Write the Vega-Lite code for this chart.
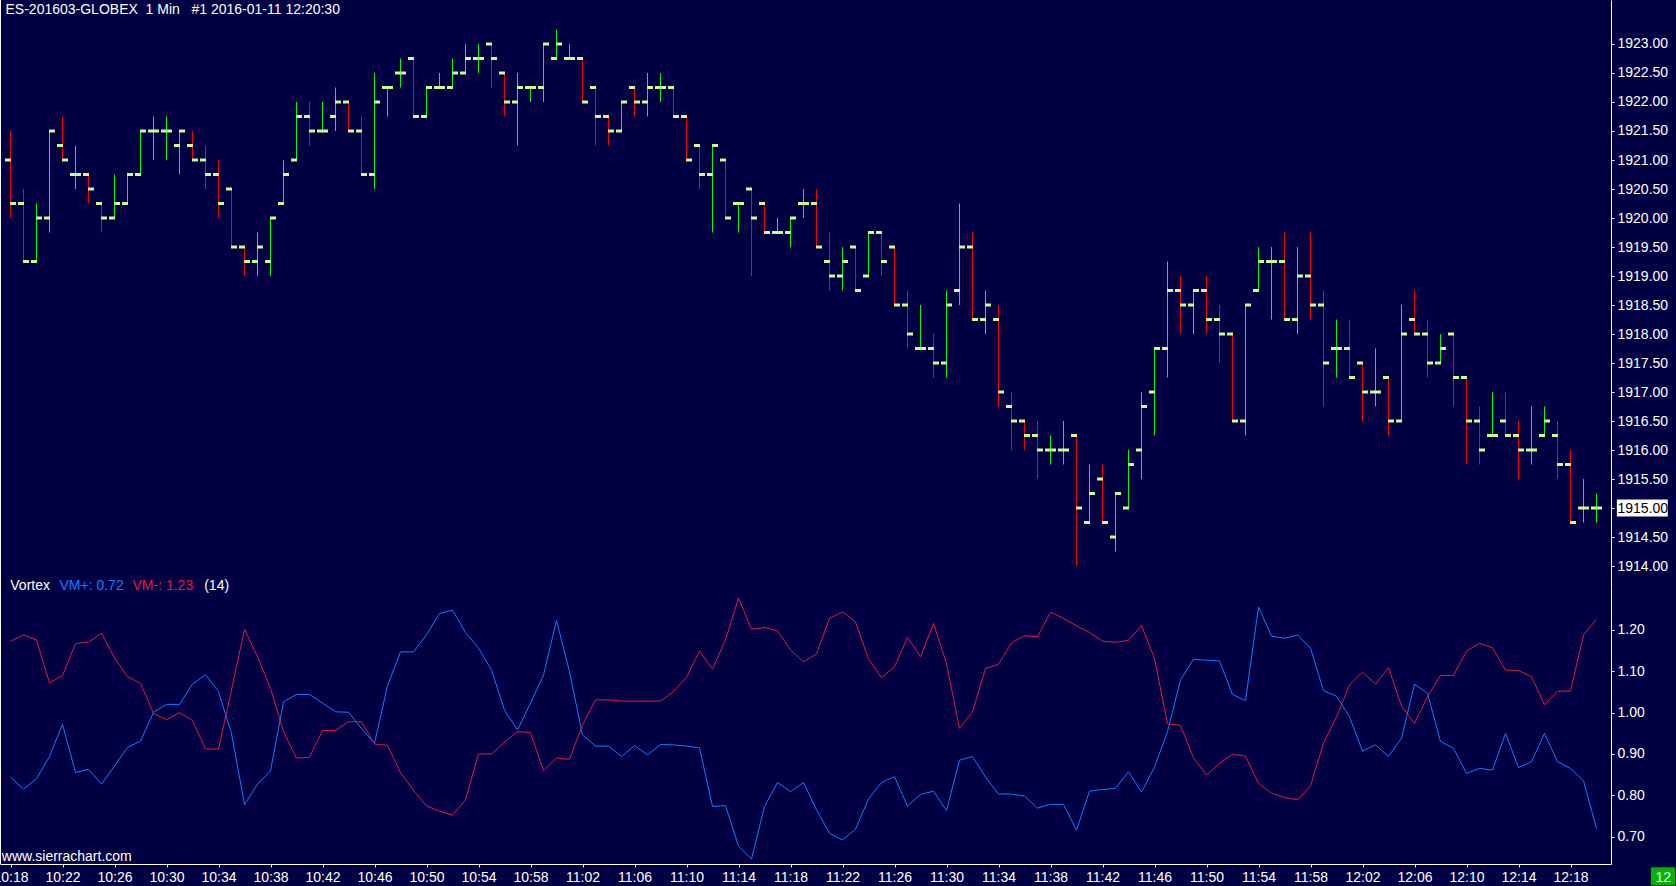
{
 "$schema": "https://vega.github.io/schema/vega-lite/v6.json",
 "width": 1611,
 "height": 864,
 "autosize": {"type": "none"},
 "padding": {"left": 0, "top": 0, "right": 65, "bottom": 22},
 "background": "#000042",
 "config": {
  "view": {"stroke": null, "fill": "#000042"},
  "font": "Liberation Sans",
  "axis": {"labelFont": "Liberation Sans", "labelFontSize": 14, "labelColor": "#FFFFFF", "domainColor": "#FFFFFF", "domainWidth": 1, "tickColor": "#FFFFFF", "grid": false, "labelOverlap": false, "labelFlush": false}
 },
 "data": {"values": [
  {"t":"2016-01-11T10:18","o":1921,"h":1921.5,"l":1920,"c":1920.25,"vp":0.844,"vm":1.173},
  {"t":"2016-01-11T10:19","o":1920.25,"h":1920.5,"l":1919.25,"c":1919.25,"vp":0.815,"vm":1.188},
  {"t":"2016-01-11T10:20","o":1919.25,"h":1920.25,"l":1919.25,"c":1920,"vp":0.840,"vm":1.176},
  {"t":"2016-01-11T10:21","o":1920,"h":1921.5,"l":1919.75,"c":1921.5,"vp":0.894,"vm":1.072},
  {"t":"2016-01-11T10:22","o":1921.25,"h":1921.75,"l":1921,"c":1921,"vp":0.972,"vm":1.090},
  {"t":"2016-01-11T10:23","o":1920.75,"h":1921.25,"l":1920.5,"c":1920.75,"vp":0.855,"vm":1.167},
  {"t":"2016-01-11T10:24","o":1920.75,"h":1920.75,"l":1920.25,"c":1920.5,"vp":0.863,"vm":1.171},
  {"t":"2016-01-11T10:25","o":1920.25,"h":1920.25,"l":1919.75,"c":1920,"vp":0.827,"vm":1.192},
  {"t":"2016-01-11T10:26","o":1920,"h":1920.75,"l":1920,"c":1920.25,"vp":0.871,"vm":1.133},
  {"t":"2016-01-11T10:27","o":1920.25,"h":1920.75,"l":1920.25,"c":1920.75,"vp":0.916,"vm":1.087},
  {"t":"2016-01-11T10:28","o":1920.75,"h":1921.5,"l":1920.75,"c":1921.5,"vp":0.931,"vm":1.071},
  {"t":"2016-01-11T10:29","o":1921.5,"h":1921.75,"l":1921,"c":1921.5,"vp":1.001,"vm":0.998},
  {"t":"2016-01-11T10:30","o":1921.5,"h":1921.75,"l":1921,"c":1921.5,"vp":1.020,"vm":0.983},
  {"t":"2016-01-11T10:31","o":1921.25,"h":1921.5,"l":1920.75,"c":1921.5,"vp":1.020,"vm":1.000},
  {"t":"2016-01-11T10:32","o":1921.25,"h":1921.5,"l":1921,"c":1921,"vp":1.069,"vm":0.981},
  {"t":"2016-01-11T10:33","o":1921,"h":1921.25,"l":1920.5,"c":1920.75,"vp":1.092,"vm":0.912},
  {"t":"2016-01-11T10:34","o":1920.75,"h":1921,"l":1920,"c":1920.25,"vp":1.051,"vm":0.912},
  {"t":"2016-01-11T10:35","o":1920.5,"h":1920.5,"l":1919.5,"c":1919.5,"vp":0.950,"vm":1.055},
  {"t":"2016-01-11T10:36","o":1919.5,"h":1919.5,"l":1919,"c":1919.25,"vp":0.777,"vm":1.202},
  {"t":"2016-01-11T10:37","o":1919.25,"h":1919.75,"l":1919,"c":1919.5,"vp":0.827,"vm":1.135},
  {"t":"2016-01-11T10:38","o":1919.25,"h":1920,"l":1919,"c":1920,"vp":0.859,"vm":1.059},
  {"t":"2016-01-11T10:39","o":1920.25,"h":1921,"l":1920.25,"c":1920.75,"vp":1.026,"vm":0.954},
  {"t":"2016-01-11T10:40","o":1921,"h":1922,"l":1921,"c":1921.75,"vp":1.044,"vm":0.890},
  {"t":"2016-01-11T10:41","o":1921.75,"h":1922,"l":1921.25,"c":1921.5,"vp":1.044,"vm":0.892},
  {"t":"2016-01-11T10:42","o":1921.5,"h":1922,"l":1921.5,"c":1921.5,"vp":1.023,"vm":0.957},
  {"t":"2016-01-11T10:43","o":1921.75,"h":1922.25,"l":1921.5,"c":1922,"vp":1.002,"vm":0.957},
  {"t":"2016-01-11T10:44","o":1922,"h":1922,"l":1921.5,"c":1921.5,"vp":1.001,"vm":0.978},
  {"t":"2016-01-11T10:45","o":1921.5,"h":1921.75,"l":1920.75,"c":1920.75,"vp":0.961,"vm":0.978},
  {"t":"2016-01-11T10:46","o":1920.75,"h":1922.5,"l":1920.5,"c":1922,"vp":0.926,"vm":0.924},
  {"t":"2016-01-11T10:47","o":1922.25,"h":1922.25,"l":1921.75,"c":1922.25,"vp":1.065,"vm":0.921},
  {"t":"2016-01-11T10:48","o":1922.5,"h":1922.75,"l":1922.25,"c":1922.5,"vp":1.147,"vm":0.855},
  {"t":"2016-01-11T10:49","o":1922.75,"h":1922.75,"l":1921.75,"c":1921.75,"vp":1.147,"vm":0.812},
  {"t":"2016-01-11T10:50","o":1921.75,"h":1922.25,"l":1921.75,"c":1922.25,"vp":1.188,"vm":0.774},
  {"t":"2016-01-11T10:51","o":1922.25,"h":1922.5,"l":1922.25,"c":1922.25,"vp":1.240,"vm":0.762},
  {"t":"2016-01-11T10:52","o":1922.25,"h":1922.75,"l":1922.25,"c":1922.5,"vp":1.248,"vm":0.752},
  {"t":"2016-01-11T10:53","o":1922.5,"h":1923,"l":1922.5,"c":1922.75,"vp":1.194,"vm":0.789},
  {"t":"2016-01-11T10:54","o":1922.75,"h":1923,"l":1922.5,"c":1922.75,"vp":1.156,"vm":0.900},
  {"t":"2016-01-11T10:55","o":1923,"h":1923,"l":1922.25,"c":1922.75,"vp":1.103,"vm":0.900},
  {"t":"2016-01-11T10:56","o":1922.5,"h":1922.5,"l":1921.75,"c":1922,"vp":1.006,"vm":0.928},
  {"t":"2016-01-11T10:57","o":1922,"h":1922.5,"l":1921.25,"c":1922.25,"vp":0.958,"vm":0.954},
  {"t":"2016-01-11T10:58","o":1922.25,"h":1922.25,"l":1922,"c":1922.25,"vp":1.023,"vm":0.952},
  {"t":"2016-01-11T10:59","o":1922.25,"h":1923,"l":1922,"c":1923,"vp":1.091,"vm":0.859},
  {"t":"2016-01-11T11:00","o":1922.75,"h":1923.25,"l":1922.75,"c":1923,"vp":1.223,"vm":0.890},
  {"t":"2016-01-11T11:01","o":1922.75,"h":1923,"l":1922.75,"c":1922.75,"vp":1.099,"vm":0.887},
  {"t":"2016-01-11T11:02","o":1922.75,"h":1922.75,"l":1922,"c":1922,"vp":0.946,"vm":0.970},
  {"t":"2016-01-11T11:03","o":1922.25,"h":1922.25,"l":1921.25,"c":1921.75,"vp":0.919,"vm":1.031},
  {"t":"2016-01-11T11:04","o":1921.75,"h":1921.75,"l":1921.25,"c":1921.5,"vp":0.919,"vm":1.031},
  {"t":"2016-01-11T11:05","o":1921.5,"h":1922,"l":1921.5,"c":1922,"vp":0.894,"vm":1.028},
  {"t":"2016-01-11T11:06","o":1922.25,"h":1922.25,"l":1921.75,"c":1922,"vp":0.920,"vm":1.028},
  {"t":"2016-01-11T11:07","o":1922,"h":1922.5,"l":1921.75,"c":1922.25,"vp":0.898,"vm":1.028},
  {"t":"2016-01-11T11:08","o":1922.25,"h":1922.5,"l":1922,"c":1922.25,"vp":0.923,"vm":1.028},
  {"t":"2016-01-11T11:09","o":1922.25,"h":1922.25,"l":1921.75,"c":1921.75,"vp":0.922,"vm":1.051},
  {"t":"2016-01-11T11:10","o":1921.75,"h":1921.75,"l":1921,"c":1921,"vp":0.919,"vm":1.085},
  {"t":"2016-01-11T11:11","o":1921.25,"h":1921.25,"l":1920.5,"c":1920.75,"vp":0.915,"vm":1.149},
  {"t":"2016-01-11T11:12","o":1920.75,"h":1921.25,"l":1919.75,"c":1921.25,"vp":0.773,"vm":1.105},
  {"t":"2016-01-11T11:13","o":1921,"h":1921,"l":1920,"c":1920,"vp":0.775,"vm":1.176},
  {"t":"2016-01-11T11:14","o":1920.25,"h":1920.25,"l":1919.75,"c":1920.25,"vp":0.677,"vm":1.277},
  {"t":"2016-01-11T11:15","o":1920.5,"h":1920.5,"l":1919,"c":1920,"vp":0.646,"vm":1.202},
  {"t":"2016-01-11T11:16","o":1920.25,"h":1920.25,"l":1919.75,"c":1919.75,"vp":0.773,"vm":1.206},
  {"t":"2016-01-11T11:17","o":1919.75,"h":1920,"l":1919.75,"c":1919.75,"vp":0.831,"vm":1.198},
  {"t":"2016-01-11T11:18","o":1919.75,"h":1920,"l":1919.5,"c":1920,"vp":0.809,"vm":1.152},
  {"t":"2016-01-11T11:19","o":1920.25,"h":1920.5,"l":1920,"c":1920.25,"vp":0.831,"vm":1.123},
  {"t":"2016-01-11T11:20","o":1920.25,"h":1920.5,"l":1919.5,"c":1919.5,"vp":0.765,"vm":1.142},
  {"t":"2016-01-11T11:21","o":1919.25,"h":1919.75,"l":1918.75,"c":1919,"vp":0.708,"vm":1.228},
  {"t":"2016-01-11T11:22","o":1919,"h":1919.5,"l":1918.75,"c":1919.25,"vp":0.692,"vm":1.244},
  {"t":"2016-01-11T11:23","o":1919.5,"h":1919.5,"l":1918.75,"c":1918.75,"vp":0.718,"vm":1.219},
  {"t":"2016-01-11T11:24","o":1919,"h":1919.75,"l":1919,"c":1919.75,"vp":0.791,"vm":1.130},
  {"t":"2016-01-11T11:25","o":1919.75,"h":1919.75,"l":1919,"c":1919.25,"vp":0.831,"vm":1.085},
  {"t":"2016-01-11T11:26","o":1919.5,"h":1919.5,"l":1918.5,"c":1918.5,"vp":0.845,"vm":1.111},
  {"t":"2016-01-11T11:27","o":1918.5,"h":1918.75,"l":1917.75,"c":1918,"vp":0.774,"vm":1.182},
  {"t":"2016-01-11T11:28","o":1917.75,"h":1918.5,"l":1917.75,"c":1917.75,"vp":0.802,"vm":1.135},
  {"t":"2016-01-11T11:29","o":1917.75,"h":1918,"l":1917.25,"c":1917.5,"vp":0.810,"vm":1.216},
  {"t":"2016-01-11T11:30","o":1917.5,"h":1918.75,"l":1917.25,"c":1918.5,"vp":0.763,"vm":1.119},
  {"t":"2016-01-11T11:31","o":1918.75,"h":1920.25,"l":1918.5,"c":1919.5,"vp":0.885,"vm":0.962},
  {"t":"2016-01-11T11:32","o":1919.5,"h":1919.75,"l":1918.25,"c":1918.25,"vp":0.894,"vm":1.002},
  {"t":"2016-01-11T11:33","o":1918.25,"h":1918.75,"l":1918,"c":1918.5,"vp":0.844,"vm":1.107},
  {"t":"2016-01-11T11:34","o":1918.25,"h":1918.5,"l":1916.75,"c":1917,"vp":0.803,"vm":1.117},
  {"t":"2016-01-11T11:35","o":1916.75,"h":1917,"l":1916,"c":1916.5,"vp":0.803,"vm":1.169},
  {"t":"2016-01-11T11:36","o":1916.5,"h":1916.5,"l":1916,"c":1916.25,"vp":0.798,"vm":1.186},
  {"t":"2016-01-11T11:37","o":1916.25,"h":1916.5,"l":1915.5,"c":1916,"vp":0.769,"vm":1.184},
  {"t":"2016-01-11T11:38","o":1916,"h":1916.25,"l":1915.75,"c":1916,"vp":0.778,"vm":1.243},
  {"t":"2016-01-11T11:39","o":1916,"h":1916.5,"l":1915.75,"c":1916,"vp":0.778,"vm":1.228},
  {"t":"2016-01-11T11:40","o":1916.25,"h":1916.25,"l":1914,"c":1915,"vp":0.716,"vm":1.210},
  {"t":"2016-01-11T11:41","o":1914.75,"h":1915.75,"l":1914.75,"c":1915.25,"vp":0.810,"vm":1.194},
  {"t":"2016-01-11T11:42","o":1915.5,"h":1915.75,"l":1914.75,"c":1914.75,"vp":0.814,"vm":1.173},
  {"t":"2016-01-11T11:43","o":1914.5,"h":1915.25,"l":1914.25,"c":1915.25,"vp":0.817,"vm":1.170},
  {"t":"2016-01-11T11:44","o":1915,"h":1916,"l":1915,"c":1915.75,"vp":0.857,"vm":1.175},
  {"t":"2016-01-11T11:45","o":1916,"h":1917,"l":1915.5,"c":1916.75,"vp":0.808,"vm":1.211},
  {"t":"2016-01-11T11:46","o":1917,"h":1917.75,"l":1916.25,"c":1917.75,"vp":0.868,"vm":1.131},
  {"t":"2016-01-11T11:47","o":1917.75,"h":1919.25,"l":1917.25,"c":1918.75,"vp":0.954,"vm":0.973},
  {"t":"2016-01-11T11:48","o":1918.75,"h":1919,"l":1918,"c":1918.5,"vp":1.079,"vm":0.969},
  {"t":"2016-01-11T11:49","o":1918.5,"h":1918.75,"l":1918,"c":1918.75,"vp":1.129,"vm":0.891},
  {"t":"2016-01-11T11:50","o":1918.75,"h":1919,"l":1918,"c":1918.25,"vp":1.127,"vm":0.849},
  {"t":"2016-01-11T11:51","o":1918.25,"h":1918.5,"l":1917.5,"c":1918,"vp":1.125,"vm":0.877},
  {"t":"2016-01-11T11:52","o":1918,"h":1918,"l":1916.5,"c":1916.5,"vp":1.044,"vm":0.899},
  {"t":"2016-01-11T11:53","o":1916.5,"h":1918.5,"l":1916.25,"c":1918.5,"vp":1.029,"vm":0.895},
  {"t":"2016-01-11T11:54","o":1918.75,"h":1919.5,"l":1918.75,"c":1919.25,"vp":1.256,"vm":0.829},
  {"t":"2016-01-11T11:55","o":1919.25,"h":1919.5,"l":1918.25,"c":1919.25,"vp":1.185,"vm":0.805},
  {"t":"2016-01-11T11:56","o":1919.25,"h":1919.75,"l":1918.25,"c":1918.25,"vp":1.180,"vm":0.795},
  {"t":"2016-01-11T11:57","o":1918.25,"h":1919.5,"l":1918,"c":1919,"vp":1.188,"vm":0.789},
  {"t":"2016-01-11T11:58","o":1919,"h":1919.75,"l":1918.25,"c":1918.5,"vp":1.156,"vm":0.823},
  {"t":"2016-01-11T11:59","o":1918.5,"h":1918.75,"l":1916.75,"c":1917.5,"vp":1.053,"vm":0.926},
  {"t":"2016-01-11T12:00","o":1917.75,"h":1918.25,"l":1917.25,"c":1917.75,"vp":1.040,"vm":0.989},
  {"t":"2016-01-11T12:01","o":1917.75,"h":1918.25,"l":1917.25,"c":1917.25,"vp":0.990,"vm":1.067},
  {"t":"2016-01-11T12:02","o":1917.5,"h":1917.5,"l":1916.5,"c":1917,"vp":0.907,"vm":1.098},
  {"t":"2016-01-11T12:03","o":1917,"h":1917.75,"l":1916.75,"c":1917,"vp":0.922,"vm":1.069},
  {"t":"2016-01-11T12:04","o":1917.25,"h":1917.25,"l":1916.25,"c":1916.5,"vp":0.894,"vm":1.109},
  {"t":"2016-01-11T12:05","o":1916.5,"h":1918.5,"l":1916.5,"c":1918,"vp":0.938,"vm":1.016},
  {"t":"2016-01-11T12:06","o":1918.25,"h":1918.75,"l":1918,"c":1918,"vp":1.069,"vm":0.974},
  {"t":"2016-01-11T12:07","o":1918,"h":1918.25,"l":1917.25,"c":1917.5,"vp":1.047,"vm":1.039},
  {"t":"2016-01-11T12:08","o":1917.5,"h":1918,"l":1917.5,"c":1917.75,"vp":0.930,"vm":1.090},
  {"t":"2016-01-11T12:09","o":1918,"h":1918,"l":1916.75,"c":1917.25,"vp":0.914,"vm":1.090},
  {"t":"2016-01-11T12:10","o":1917.25,"h":1917.25,"l":1915.75,"c":1916.5,"vp":0.853,"vm":1.149},
  {"t":"2016-01-11T12:11","o":1916.5,"h":1916.75,"l":1915.75,"c":1916,"vp":0.865,"vm":1.168},
  {"t":"2016-01-11T12:12","o":1916.25,"h":1917,"l":1916.25,"c":1916.25,"vp":0.861,"vm":1.157},
  {"t":"2016-01-11T12:13","o":1916.5,"h":1917,"l":1916.25,"c":1916.25,"vp":0.950,"vm":1.103},
  {"t":"2016-01-11T12:14","o":1916.25,"h":1916.5,"l":1915.5,"c":1916,"vp":0.867,"vm":1.102},
  {"t":"2016-01-11T12:15","o":1916,"h":1916.75,"l":1915.75,"c":1916,"vp":0.881,"vm":1.087},
  {"t":"2016-01-11T12:16","o":1916.25,"h":1916.75,"l":1916.25,"c":1916.5,"vp":0.950,"vm":1.019},
  {"t":"2016-01-11T12:17","o":1916.25,"h":1916.5,"l":1915.5,"c":1915.75,"vp":0.881,"vm":1.052},
  {"t":"2016-01-11T12:18","o":1915.75,"h":1916,"l":1914.75,"c":1914.75,"vp":0.865,"vm":1.052},
  {"t":"2016-01-11T12:19","o":1915,"h":1915.5,"l":1914.75,"c":1915,"vp":0.835,"vm":1.188},
  {"t":"2016-01-11T12:20","o":1915,"h":1915.25,"l":1914.75,"c":1915,"vp":0.720,"vm":1.226}
 ]},
 "layer": [
  {
   "layer": [
    {
     "mark": {"type": "rule", "strokeWidth": 1},
     "encoding": {
      "x": {"field": "t", "type": "temporal",
            "scale": {"domain": [{"year":2016,"month":1,"date":11,"hours":10,"minutes":17,"seconds":11,"milliseconds":538},{"year":2016,"month":1,"date":11,"hours":12,"minutes":21,"seconds":6,"milliseconds":923}], "nice": false},
            "axis": {"title": null, "orient": "bottom", "format": "%H:%M", "tickSize": 3, "labelPadding": 3, "labelBaseline": "top", "zindex": 2,
              "values": [
               {"year":2016,"month":1,"date":11,"hours":10,"minutes":18},
               {"year":2016,"month":1,"date":11,"hours":10,"minutes":22},
               {"year":2016,"month":1,"date":11,"hours":10,"minutes":26},
               {"year":2016,"month":1,"date":11,"hours":10,"minutes":30},
               {"year":2016,"month":1,"date":11,"hours":10,"minutes":34},
               {"year":2016,"month":1,"date":11,"hours":10,"minutes":38},
               {"year":2016,"month":1,"date":11,"hours":10,"minutes":42},
               {"year":2016,"month":1,"date":11,"hours":10,"minutes":46},
               {"year":2016,"month":1,"date":11,"hours":10,"minutes":50},
               {"year":2016,"month":1,"date":11,"hours":10,"minutes":54},
               {"year":2016,"month":1,"date":11,"hours":10,"minutes":58},
               {"year":2016,"month":1,"date":11,"hours":11,"minutes":2},
               {"year":2016,"month":1,"date":11,"hours":11,"minutes":6},
               {"year":2016,"month":1,"date":11,"hours":11,"minutes":10},
               {"year":2016,"month":1,"date":11,"hours":11,"minutes":14},
               {"year":2016,"month":1,"date":11,"hours":11,"minutes":18},
               {"year":2016,"month":1,"date":11,"hours":11,"minutes":22},
               {"year":2016,"month":1,"date":11,"hours":11,"minutes":26},
               {"year":2016,"month":1,"date":11,"hours":11,"minutes":30},
               {"year":2016,"month":1,"date":11,"hours":11,"minutes":34},
               {"year":2016,"month":1,"date":11,"hours":11,"minutes":38},
               {"year":2016,"month":1,"date":11,"hours":11,"minutes":42},
               {"year":2016,"month":1,"date":11,"hours":11,"minutes":46},
               {"year":2016,"month":1,"date":11,"hours":11,"minutes":50},
               {"year":2016,"month":1,"date":11,"hours":11,"minutes":54},
               {"year":2016,"month":1,"date":11,"hours":11,"minutes":58},
               {"year":2016,"month":1,"date":11,"hours":12,"minutes":2},
               {"year":2016,"month":1,"date":11,"hours":12,"minutes":6},
               {"year":2016,"month":1,"date":11,"hours":12,"minutes":10},
               {"year":2016,"month":1,"date":11,"hours":12,"minutes":14},
               {"year":2016,"month":1,"date":11,"hours":12,"minutes":18}
              ]}},
      "y": {"field": "l", "type": "quantitative",
            "scale": {"domain": [1913.638, 1923.7586], "range": [587, 0], "zero": false, "nice": false},
            "axis": {"title": null, "orient": "right", "format": ".2f", "tickSize": 3, "labelPadding": 3, "zindex": 2,
                     "values": [1914,1914.5,1915,1915.5,1916,1916.5,1917,1917.5,1918,1918.5,1919,1919.5,1920,1920.5,1921,1921.5,1922,1922.5,1923],
                     "labelColor": {"condition": {"test": "datum.value === 1915", "value": "#000000"}, "value": "#FFFFFF"}}},
      "y2": {"field": "h"},
      "color": {"condition": {"test": "datum.c >= datum.o", "value": "#00FF00"}, "value": "#FF0000"}
     }
    },
    {
     "mark": {"type": "rule", "strokeWidth": 3, "xOffset": -5.5, "x2Offset": 0.5, "color": "#C8FF8C"},
     "encoding": {
      "x": {"field": "t", "type": "temporal", "scale": {"domain": [{"year":2016,"month":1,"date":11,"hours":10,"minutes":17,"seconds":11,"milliseconds":538},{"year":2016,"month":1,"date":11,"hours":12,"minutes":21,"seconds":6,"milliseconds":923}], "nice": false}},
      "x2": {"field": "t"},
      "y": {"field": "o", "type": "quantitative", "scale": {"domain": [1913.638, 1923.7586], "range": [587, 0], "zero": false, "nice": false}}
     }
    },
    {
     "mark": {"type": "rule", "strokeWidth": 3, "xOffset": -0.5, "x2Offset": 5.5, "color": "#C8FF8C"},
     "encoding": {
      "x": {"field": "t", "type": "temporal", "scale": {"domain": [{"year":2016,"month":1,"date":11,"hours":10,"minutes":17,"seconds":11,"milliseconds":538},{"year":2016,"month":1,"date":11,"hours":12,"minutes":21,"seconds":6,"milliseconds":923}], "nice": false}},
      "x2": {"field": "t"},
      "y": {"field": "c", "type": "quantitative", "scale": {"domain": [1913.638, 1923.7586], "range": [587, 0], "zero": false, "nice": false}}
     }
    },
    {
     "data": {"values": [{}]},
     "mark": {"type": "rect", "color": "#FFFFFF"},
     "encoding": {
      "x": {"datum": {"year":2016,"month":1,"date":11,"hours":12,"minutes":21,"seconds":34}, "type": "temporal", "scale": {"domain": [{"year":2016,"month":1,"date":11,"hours":10,"minutes":17,"seconds":11,"milliseconds":538},{"year":2016,"month":1,"date":11,"hours":12,"minutes":21,"seconds":6,"milliseconds":923}], "nice": false}},
      "x2": {"datum": {"year":2016,"month":1,"date":11,"hours":12,"minutes":25,"seconds":29}},
      "y": {"datum": 1915.145, "type": "quantitative", "scale": {"domain": [1913.638, 1923.7586], "range": [587, 0], "zero": false, "nice": false}},
      "y2": {"datum": 1914.855}
     }
    },
    {
     "data": {"values": [{}]},
     "mark": {"type": "text", "text": "ES-201603-GLOBEX\u00a0\u00a01 Min\u00a0\u00a0\u00a0#1 2016-01-11 12:20:30", "align": "left", "baseline": "alphabetic", "color": "#FFFFFF", "fontSize": 14, "font": "Liberation Sans"},
     "encoding": {
      "x": {"datum": {"year":2016,"month":1,"date":11,"hours":10,"minutes":17,"seconds":37}, "type": "temporal", "scale": {"domain": [{"year":2016,"month":1,"date":11,"hours":10,"minutes":17,"seconds":11,"milliseconds":538},{"year":2016,"month":1,"date":11,"hours":12,"minutes":21,"seconds":6,"milliseconds":923}], "nice": false}},
      "y": {"datum": 1923.517, "type": "quantitative", "scale": {"domain": [1913.638, 1923.7586], "range": [587, 0], "zero": false, "nice": false}}
     }
    }
   ]
  },
  {
   "layer": [
    {
     "mark": {"type": "line", "color": "#0F7FFF", "strokeWidth": 1},
     "encoding": {
      "x": {"field": "t", "type": "temporal", "scale": {"domain": [{"year":2016,"month":1,"date":11,"hours":10,"minutes":17,"seconds":11,"milliseconds":538},{"year":2016,"month":1,"date":11,"hours":12,"minutes":21,"seconds":6,"milliseconds":923}], "nice": false}},
      "y": {"field": "vp", "type": "quantitative",
            "scale": {"domain": [0.6338, 1.304], "range": [864, 587], "zero": false, "nice": false},
            "axis": {"title": null, "orient": "right", "format": ".2f", "tickSize": 3, "labelPadding": 3, "zindex": 2, "values": [0.7, 0.8, 0.9, 1.0, 1.1, 1.2]}}
     }
    },
    {
     "mark": {"type": "line", "color": "#E8183C", "strokeWidth": 1},
     "encoding": {
      "x": {"field": "t", "type": "temporal", "scale": {"domain": [{"year":2016,"month":1,"date":11,"hours":10,"minutes":17,"seconds":11,"milliseconds":538},{"year":2016,"month":1,"date":11,"hours":12,"minutes":21,"seconds":6,"milliseconds":923}], "nice": false}},
      "y": {"field": "vm", "type": "quantitative", "scale": {"domain": [0.6338, 1.304], "range": [864, 587], "zero": false, "nice": false}}
     }
    },
    {
     "data": {"values": [{}]},
     "mark": {"type": "rule", "color": "#FFFFFF", "strokeWidth": 2},
     "encoding": {
      "x": {"datum": {"year":2016,"month":1,"date":11,"hours":10,"minutes":17,"seconds":11,"milliseconds":538}, "type": "temporal", "scale": {"domain": [{"year":2016,"month":1,"date":11,"hours":10,"minutes":17,"seconds":11,"milliseconds":538},{"year":2016,"month":1,"date":11,"hours":12,"minutes":21,"seconds":6,"milliseconds":923}], "nice": false}},
      "y": {"datum": 0.6338, "type": "quantitative", "scale": {"domain": [0.6338, 1.304], "range": [864, 587], "zero": false, "nice": false}},
      "y2": {"datum": 2.724}
     }
    },
    {
     "data": {"values": [{}]},
     "mark": {"type": "text", "text": "Vortex", "align": "left", "baseline": "alphabetic", "color": "#FFFFFF", "fontSize": 14, "font": "Liberation Sans"},
     "encoding": {
      "x": {"datum": {"year":2016,"month":1,"date":11,"hours":10,"minutes":17,"seconds":59}, "type": "temporal", "scale": {"domain": [{"year":2016,"month":1,"date":11,"hours":10,"minutes":17,"seconds":11,"milliseconds":538},{"year":2016,"month":1,"date":11,"hours":12,"minutes":21,"seconds":6,"milliseconds":923}], "nice": false}},
      "y": {"datum": 1.2968, "type": "quantitative", "scale": {"domain": [0.6338, 1.304], "range": [864, 587], "zero": false, "nice": false}}
     }
    },
    {
     "data": {"values": [{}]},
     "mark": {"type": "text", "text": "VM+: 0.72", "align": "left", "baseline": "alphabetic", "color": "#0F7FFF", "fontSize": 14, "font": "Liberation Sans"},
     "encoding": {
      "x": {"datum": {"year":2016,"month":1,"date":11,"hours":10,"minutes":21,"seconds":46}, "type": "temporal", "scale": {"domain": [{"year":2016,"month":1,"date":11,"hours":10,"minutes":17,"seconds":11,"milliseconds":538},{"year":2016,"month":1,"date":11,"hours":12,"minutes":21,"seconds":6,"milliseconds":923}], "nice": false}},
      "y": {"datum": 1.2968, "type": "quantitative", "scale": {"domain": [0.6338, 1.304], "range": [864, 587], "zero": false, "nice": false}}
     }
    },
    {
     "data": {"values": [{}]},
     "mark": {"type": "text", "text": "VM-: 1.23", "align": "left", "baseline": "alphabetic", "color": "#E8183C", "fontSize": 14, "font": "Liberation Sans"},
     "encoding": {
      "x": {"datum": {"year":2016,"month":1,"date":11,"hours":10,"minutes":27,"seconds":23}, "type": "temporal", "scale": {"domain": [{"year":2016,"month":1,"date":11,"hours":10,"minutes":17,"seconds":11,"milliseconds":538},{"year":2016,"month":1,"date":11,"hours":12,"minutes":21,"seconds":6,"milliseconds":923}], "nice": false}},
      "y": {"datum": 1.2968, "type": "quantitative", "scale": {"domain": [0.6338, 1.304], "range": [864, 587], "zero": false, "nice": false}}
     }
    },
    {
     "data": {"values": [{}]},
     "mark": {"type": "text", "text": "(14)", "align": "left", "baseline": "alphabetic", "color": "#FFFFFF", "fontSize": 14, "font": "Liberation Sans"},
     "encoding": {
      "x": {"datum": {"year":2016,"month":1,"date":11,"hours":10,"minutes":32,"seconds":54}, "type": "temporal", "scale": {"domain": [{"year":2016,"month":1,"date":11,"hours":10,"minutes":17,"seconds":11,"milliseconds":538},{"year":2016,"month":1,"date":11,"hours":12,"minutes":21,"seconds":6,"milliseconds":923}], "nice": false}},
      "y": {"datum": 1.2968, "type": "quantitative", "scale": {"domain": [0.6338, 1.304], "range": [864, 587], "zero": false, "nice": false}}
     }
    },
    {
     "data": {"values": [{}]},
     "mark": {"type": "text", "text": "www.sierrachart.com", "align": "left", "baseline": "alphabetic", "color": "#FFFFFF", "fontSize": 14, "font": "Liberation Sans"},
     "encoding": {
      "x": {"datum": {"year":2016,"month":1,"date":11,"hours":10,"minutes":17,"seconds":20}, "type": "temporal", "scale": {"domain": [{"year":2016,"month":1,"date":11,"hours":10,"minutes":17,"seconds":11,"milliseconds":538},{"year":2016,"month":1,"date":11,"hours":12,"minutes":21,"seconds":6,"milliseconds":923}], "nice": false}},
      "y": {"datum": 0.6399, "type": "quantitative", "scale": {"domain": [0.6338, 1.304], "range": [864, 587], "zero": false, "nice": false}}
     }
    },
    {
     "data": {"values": [{}]},
     "mark": {"type": "rect", "color": "#00B400"},
     "encoding": {
      "x": {"datum": {"year":2016,"month":1,"date":11,"hours":12,"minutes":24,"seconds":11}, "type": "temporal", "scale": {"domain": [{"year":2016,"month":1,"date":11,"hours":10,"minutes":17,"seconds":11,"milliseconds":538},{"year":2016,"month":1,"date":11,"hours":12,"minutes":21,"seconds":6,"milliseconds":923}], "nice": false}},
      "x2": {"datum": {"year":2016,"month":1,"date":11,"hours":12,"minutes":26,"seconds":3}},
      "y": {"datum": 0.6258, "type": "quantitative", "scale": {"domain": [0.6338, 1.304], "range": [864, 587], "zero": false, "nice": false}},
      "y2": {"datum": 0.5822}
     }
    },
    {
     "data": {"values": [{}]},
     "mark": {"type": "text", "text": "12", "align": "center", "baseline": "alphabetic", "color": "#FFFFFF", "fontSize": 14, "font": "Liberation Sans"},
     "encoding": {
      "x": {"datum": {"year":2016,"month":1,"date":11,"hours":12,"minutes":25,"seconds":8}, "type": "temporal", "scale": {"domain": [{"year":2016,"month":1,"date":11,"hours":10,"minutes":17,"seconds":11,"milliseconds":538},{"year":2016,"month":1,"date":11,"hours":12,"minutes":21,"seconds":6,"milliseconds":923}], "nice": false}},
      "y": {"datum": 0.591, "type": "quantitative", "scale": {"domain": [0.6338, 1.304], "range": [864, 587], "zero": false, "nice": false}}
     }
    }
   ]
  }
 ],
 "resolve": {"scale": {"y": "independent"}, "axis": {"y": "independent"}}
}
